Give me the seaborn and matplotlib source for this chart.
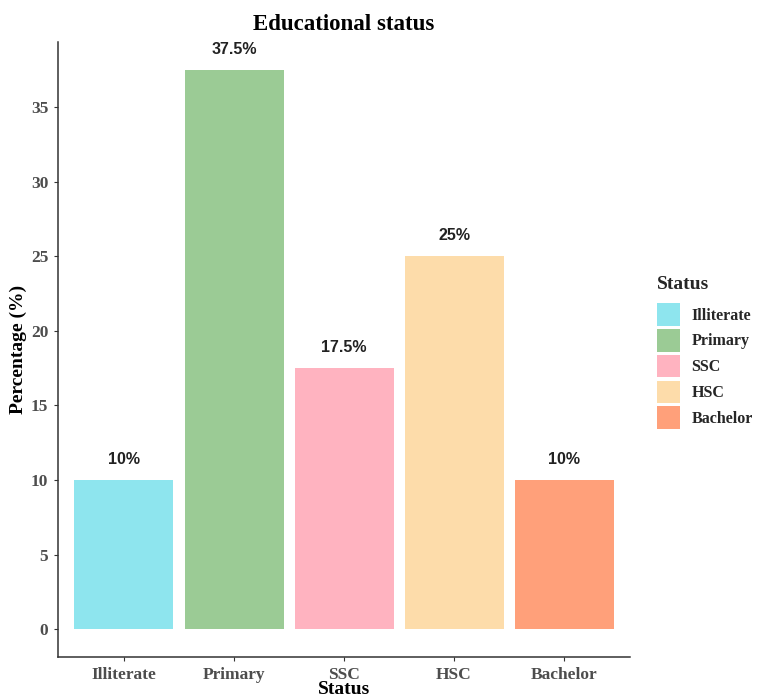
import matplotlib
matplotlib.use("Agg")
import matplotlib.pyplot as plt
import matplotlib.patches as mpatches
import seaborn as sns
import pandas as pd

# Educational status shares
categories = ["Illiterate", "Primary", "SSC", "HSC", "Bachelor"]
percentages = [10, 37.5, 17.5, 25, 10]
value_labels = ["10%", "37.5%", "17.5%", "25%", "10%"]
colors = ["#8EE5EE", "#9BCB95", "#FFB3C0", "#FDDCAA", "#FFA07A"]

df = pd.DataFrame({"Status": categories, "Percentage": percentages})

sns.set_theme(style="white")
plt.rcParams["font.family"] = ["Liberation Serif", "DejaVu Serif"]

fig = plt.figure(figsize=(7.57, 7.0), dpi=100)
ax = fig.add_axes([0.0766, 0.0614, 0.7557, 0.8786])

sns.barplot(data=df, x="Status", y="Percentage", hue="Status",
            palette=colors, order=categories, hue_order=categories,
            dodge=False, width=0.9, legend=False, ax=ax,
            edgecolor="none", linewidth=0, saturation=1)

for i, (v, lab) in enumerate(zip(percentages, value_labels)):
    ax.text(i, v + 0.9, lab, ha="center", va="bottom",
            fontsize=11.5, fontweight="bold", color="#222222",
            family=["Liberation Sans", "DejaVu Sans"])

ax.set_xlim(-0.6, 4.6)
ax.set_ylim(-1.875, 39.375)
ax.set_yticks([0, 5, 10, 15, 20, 25, 30, 35])

for s in ["top", "right"]:
    ax.spines[s].set_visible(False)
for s in ["left", "bottom"]:
    ax.spines[s].set_color("#333333")
    ax.spines[s].set_linewidth(1.1)

ax.tick_params(axis="both", which="both", length=3, width=0.8,
               color="#333333", labelcolor="#4D4D4D", labelsize=12.5,
               left=True, bottom=True, pad=4)
for t in ax.get_xticklabels() + ax.get_yticklabels():
    t.set_fontweight("bold")

ax.set_xlabel("Status", fontsize=14, fontweight="bold", color="black", labelpad=-1)
ax.set_ylabel("Percentage (%)", fontsize=14, fontweight="bold", color="black", labelpad=3)
ax.set_title("Educational status", fontsize=16.5, fontweight="bold", color="black", pad=9)

handles = [mpatches.Patch(facecolor=c, edgecolor="none") for c in colors]
leg = ax.legend(handles, categories, title="Status", loc="upper left",
                bbox_to_anchor=(0.868, 0.606), bbox_transform=fig.transFigure,
                frameon=False, handlelength=1.45, handleheight=1.8,
                handletextpad=0.7, labelspacing=0.2, borderaxespad=0,
                borderpad=0, prop={"weight": "bold", "size": 11.5})
leg.get_title().set_fontweight("bold")
leg.get_title().set_fontsize(14)
leg._legend_box.align = "left"
leg._legend_box.sep = 7.5

fig.savefig("out.png", dpi=100, facecolor="white")
